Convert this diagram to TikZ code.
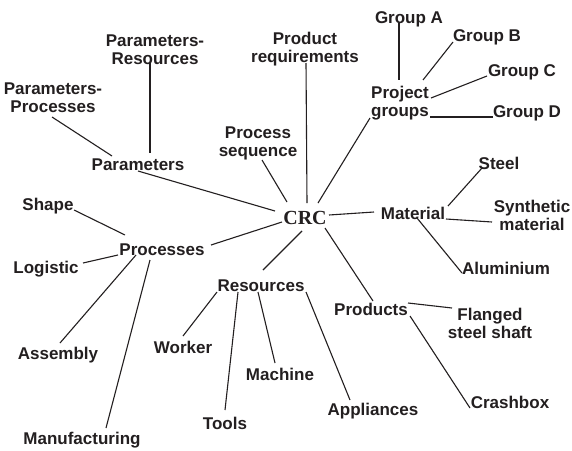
\documentclass[tikz,border=0pt]{standalone}
\usepackage{fontspec}
\setmainfont{Liberation Sans}
\newfontfamily\crcfont{Liberation Serif}
\definecolor{ink}{HTML}{231F20}
\newcommand\lnk[4]{\draw[conn] ([shift={#2}]#1.center) -- ([shift={#4}]#3.center);}
\begin{document}
\begin{tikzpicture}[x=1pt,y=-1pt,
  lbl/.style={font=\fontsize{17}{18}\selectfont\bfseries, text=ink, inner sep=0pt, align=center},
  one/.style={lbl, text height=12pt, text depth=0pt},
  conn/.style={draw=ink, line width=1.1pt}]
\useasboundingbox (0,0) rectangle (572,450);
\fill[white] (0,0) rectangle (572,450);
% nodes
\node[inner sep=0pt, text=ink, font=\crcfont\fontsize{20}{22}\selectfont\bfseries, text height=13.5pt, text depth=0pt] (crc) at (305,218) {CRC};
\node[lbl] (prmres) at (155,49.5) {Parameters-\\Resources};
\node[lbl] (prmproc) at (53,98) {Parameters-\\Processes};
\node[one] (param) at (138,164) {Parameters};
\node[lbl] (pseq) at (258,143) {Process\\sequence};
\node[lbl] (preq) at (305,49) {Product\\requirements};
\node[lbl] (pgroups) at (400,103) {Project\\groups};
\node[one] (ga) at (409,17) {Group A};
\node[one] (gb) at (487,35) {Group B};
\node[one] (gc) at (522,70) {Group C};
\node[one] (gd) at (527,111) {Group D};
\node[one] (steel) at (499,163) {Steel};
\node[one] (material) at (413,213) {Material};
\node[lbl] (synth) at (532,215) {Synthetic\\material};
\node[one] (alu) at (506,268) {Aluminium};
\node[one] (products) at (371,309) {Products};
\node[lbl] (flanged) at (490,323) {Flanged\\steel shaft};
\node[one] (crash) at (510,402) {Crashbox};
\node[one] (resources) at (261,285) {Resources};
\node[one] (worker) at (183,347) {Worker};
\node[one] (tools) at (225,423) {Tools};
\node[one] (machine) at (280,374) {Machine};
\node[one] (appl) at (373,409) {Appliances};
\node[one] (processes) at (162,249) {Processes};
\node[one] (shape) at (48,204) {Shape};
\node[one] (logistic) at (46,267) {Logistic};
\node[one] (assembly) at (58,353) {Assembly};
\node[one] (manuf) at (82,438) {Manufacturing};
% connectors
\lnk{prmres}{(-5,13.5)}{param}{(12,-11)}
\lnk{prmproc}{(-1,19)}{param}{(-26,-8)}
\lnk{param}{(0,7)}{crc}{(-30,-7)}
\lnk{pseq}{(4,17)}{crc}{(-18,-16)}
\lnk{preq}{(1,14)}{crc}{(2,-15)}
\lnk{crc}{(13,-15)}{pgroups}{(-30,15)}
\lnk{ga}{(-10,6)}{pgroups}{(-1,-23)}
\lnk{gb}{(-34,7)}{pgroups}{(23,-23)}
\lnk{gc}{(-35,6)}{pgroups}{(31,-5)}
\lnk{gd}{(-34,6)}{pgroups}{(30,14)}
\lnk{steel}{(-17,5)}{material}{(35,-7)}
\lnk{crc}{(24,-3)}{material}{(-39,-1)}
\lnk{material}{(33,6)}{synth}{(-40,7)}
\lnk{material}{(4,5)}{alu}{(-44,5)}
\lnk{crc}{(20,10)}{products}{(2,-8)}
\lnk{products}{(37,-6)}{flanged}{(-38,-15)}
\lnk{products}{(39,7)}{crash}{(-40,6)}
\lnk{crc}{(-3,13)}{resources}{(2,-15)}
\lnk{resources}{(45,7)}{appl}{(-23,-9)}
\lnk{resources}{(-3,7)}{machine}{(-5,-11)}
\lnk{resources}{(-23,7)}{tools}{(0,-13)}
\lnk{resources}{(-44,7)}{worker}{(0,-11)}
\lnk{crc}{(-23,4)}{processes}{(49,-4)}
\lnk{processes}{(-37,-14)}{shape}{(26,6)}
\lnk{processes}{(-44,6)}{logistic}{(37,-4)}
\lnk{processes}{(-26,6)}{assembly}{(2,-10)}
\lnk{processes}{(-12,11)}{manuf}{(24,-10)}
\end{tikzpicture}
\end{document}
